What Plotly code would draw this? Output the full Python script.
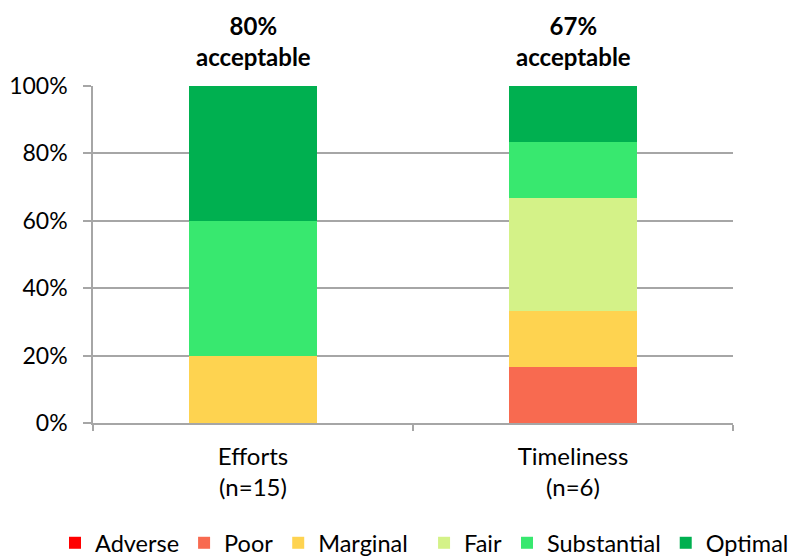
import plotly.graph_objects as go

categories = ["Efforts<br>(n=15)", "Timeliness<br>(n=6)"]
series_names = ["Adverse", "Poor", "Marginal", "Fair", "Substantial", "Optimal"]
adverse = [0.0, 0.0]
poor = [0.0, 1/6]
marginal = [0.20, 1/6]
fair = [0.0, 2/6]
substantial = [0.40, 1/6]
optimal = [0.40, 1/6]
acceptable_labels = ["80%<br>acceptable", "67%<br>acceptable"]
colors = ["#FF0000", "#F86A50", "#FED350", "#D4F288", "#38E86F", "#00B050"]
legend_groups = ["legend", "legend", "legend", "legend2", "legend2", "legend2"]

series_values = [adverse, poor, marginal, fair, substantial, optimal]

FONT = "Lato, 'Open Sans', sans-serif"

fig = go.Figure()
for name, vals, col, lg in zip(series_names, series_values, colors, legend_groups):
    fig.add_trace(go.Bar(x=categories, y=vals, name=name, legend=lg,
                         marker=dict(color=col, line=dict(width=0))))

for cat, lab in zip(categories, acceptable_labels):
    fig.add_annotation(x=cat, y=1.0, yref="y", xref="x", text="<b>" + lab + "</b>",
                       showarrow=False, yanchor="bottom", yshift=13,
                       font=dict(family=FONT, size=24, color="#000000"))

legend_common = dict(orientation="h", xanchor="left", xref="container",
                     y=0.0255, yanchor="middle", yref="container",
                     traceorder="normal", font=dict(size=23.5),
                     itemwidth=30, tracegroupgap=0)

fig.update_layout(
    barmode="stack",
    bargap=0.6,
    width=791, height=549,
    margin=dict(l=85, r=66, t=78, b=134),
    plot_bgcolor="white", paper_bgcolor="white",
    font=dict(family=FONT, size=22, color="#000000"),
    showlegend=True,
    legend=dict(x=0.0594, **legend_common),
    legend2=dict(x=0.526, **legend_common),
)
fig.update_xaxes(showline=True, linecolor="#A6A6A6", linewidth=1.5, ticks="outside",
                 tickson="boundaries", ticklen=6, tickcolor="#A6A6A6", tickwidth=1.5,
                 tickfont=dict(size=24), ticklabelstandoff=11, automargin=False)
fig.update_yaxes(range=[0, 1], tickvals=[0, 0.2, 0.4, 0.6, 0.8, 1.0], tickformat=".0%",
                 showgrid=True, gridcolor="#A6A6A6", gridwidth=1.5,
                 showline=True, linecolor="#A6A6A6", linewidth=1.5,
                 ticks="outside", ticklen=8, tickcolor="#A6A6A6", tickwidth=1.5,
                 zeroline=False, tickfont=dict(size=23), ticklabelstandoff=11,
                 automargin=False)

fig.write_html("out.html")
